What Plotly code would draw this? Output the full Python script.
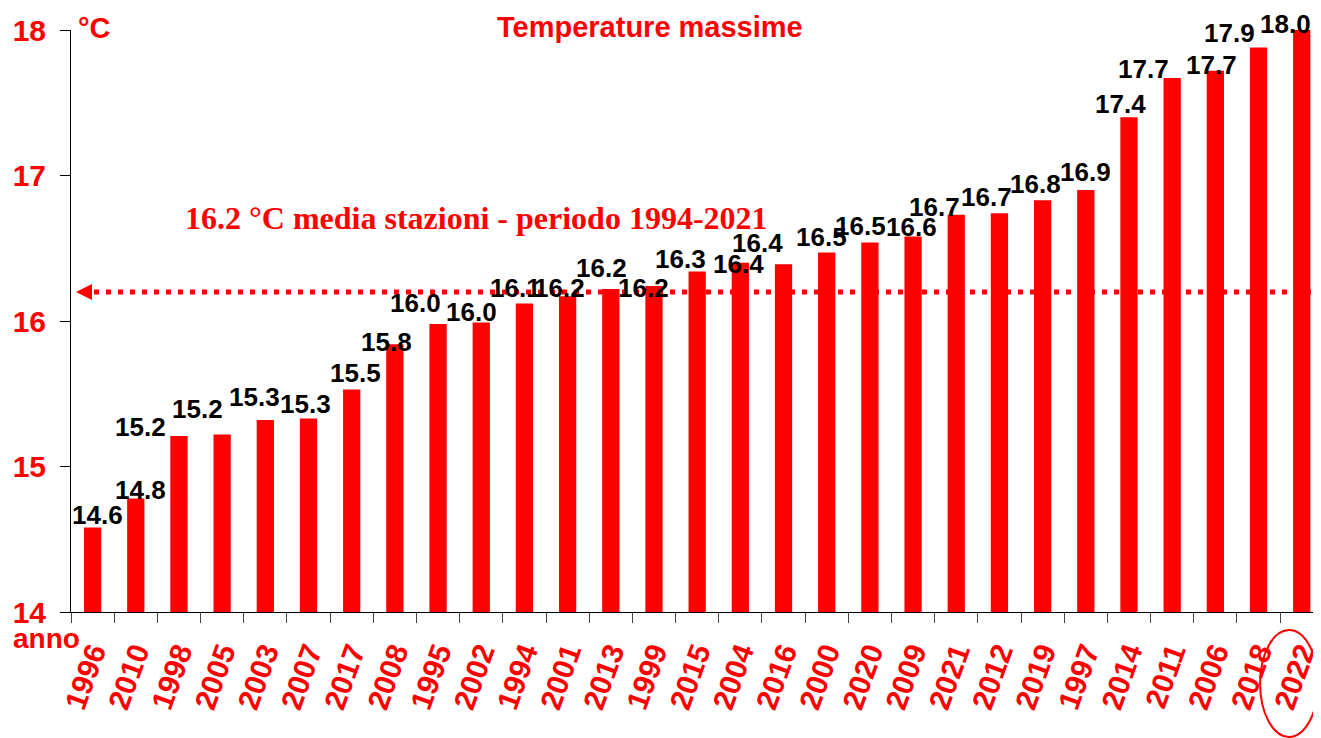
import plotly.graph_objects as go

# ---- data ----
years = ["1996", "2010", "1998", "2005", "2003", "2007", "2017", "2008", "1995", "2002",
         "1994", "2001", "2013", "1999", "2015", "2004", "2016", "2000", "2020", "2009",
         "2021", "2012", "2019", "1997", "2014", "2011", "2006", "2018", "2022"]
tmax = [14.58, 14.78, 15.21, 15.22, 15.32, 15.33, 15.53, 15.84, 15.98, 15.99,
        16.12, 16.17, 16.22, 16.24, 16.34, 16.40, 16.39, 16.47, 16.54, 16.58,
        16.73, 16.74, 16.83, 16.90, 17.40, 17.67, 17.72, 17.88, 18.01]
mean_ref = 16.2
y_ticks = [14, 15, 16, 17, 18]

# label placement tweaks (pixels), mimicking the hand-placed labels of the original
label_dx = [5, 5, -38, -25, -11, -3, 4, -8, -23, -10, -9, -8, -9, -10, -17, -2, -26, -5,
            -9, -2, -22, -13, -7, 0, -8, -29, -4, -29, -16]
label_dy = [-13, -9, -9, -25, -23, -14, -16, -2, -21, -10, -16, -8, -21, 2, -13, 1, -21,
            -16, -16, -10, -8, -16, -16, -18, -13, -9, -6, -14, -6]

RED = "#FF0000"
SANS = "Liberation Sans, Arial, sans-serif"
SERIF = "Liberation Serif, Times New Roman, serif"
Y_RANGE = [y_ticks[0], y_ticks[-1]]

# the page adds an 8px body margin; the figure is sized so the plot area lands
# at x 71..1321, y 30..612 of the window
fig = go.Figure()
fig.add_trace(go.Bar(x=years, y=tmax, width=0.4, marker=dict(color=RED, line=dict(width=0)),
                     hoverinfo="x+y"))

annotations = []
for i, (v, dx, dy) in enumerate(zip(tmax, label_dx, label_dy)):
    annotations.append(dict(x=i, y=min(v, Y_RANGE[1]), xref="x", yref="y", text=f"{v:.1f}",
                            showarrow=False, xshift=dx, yshift=-dy,
                            yanchor="middle", xanchor="center",
                            font=dict(family=SANS, size=26, color="black", weight="bold")))

annotations += [
    dict(x=0.464, y=1.005, xref="paper", yref="paper", text="Temperature massime",
         showarrow=False, xanchor="center", yanchor="middle",
         font=dict(family=SANS, size=29, color=RED, weight="bold")),
    dict(x=0.0185, y=1.003, xref="paper", yref="paper", text="°C", showarrow=False,
         xanchor="center", yanchor="middle",
         font=dict(family=SANS, size=29, color=RED, weight="bold")),
    dict(x=-0.0193, y=-0.046, xref="paper", yref="paper", text="anno", showarrow=False,
         xanchor="center", yanchor="middle",
         font=dict(family=SANS, size=28, color=RED, weight="bold")),
    dict(x=0.3252, y=0.677, xref="paper", yref="paper",
         text=f"{mean_ref:.1f} °C media stazioni - periodo 1994-2021", showarrow=False,
         xanchor="center", yanchor="middle",
         font=dict(family=SERIF, size=32, color=RED, weight="bold")),
]

shapes = [
    dict(type="line", xref="paper", yref="y", x0=0.0088, x1=0.996, y0=mean_ref, y1=mean_ref,
         line=dict(color=RED, width=5, dash="5px,7px"), layer="above"),
    dict(type="path", xref="x", yref="y", xsizemode="pixel", ysizemode="pixel",
         xanchor=-0.5, yanchor=mean_ref, path="M 5,0 L 21,8 L 21,-8 Z",
         fillcolor=RED, line=dict(color=RED, width=0)),
    dict(type="circle", xref="paper", yref="paper",
         x0=(1262 - 71) / 1250, x1=(1320 - 71) / 1250,
         y0=(612 - 737) / 582, y1=(612 - 630) / 582,
         line=dict(color=RED, width=2)),
]

fig.update_layout(
    width=1313, height=730,
    margin=dict(l=63, r=0, t=22, b=126),
    paper_bgcolor="white", plot_bgcolor="white",
    showlegend=False,
    annotations=annotations,
    shapes=shapes,
    xaxis=dict(type="category", range=[-0.5, 28.4], showgrid=False, showline=True,
               linecolor="black", linewidth=1, ticks="outside", tickson="boundaries",
               ticklen=10, tickcolor="#444", tickangle=-70, ticklabelstandoff=10,
               tickfont=dict(family=SANS, size=30, color=RED, weight="bold")),
    yaxis=dict(range=Y_RANGE, tickvals=y_ticks, showgrid=False, zeroline=False, showline=True,
               linecolor="black", linewidth=1, ticks="outside", ticklen=10, tickcolor="black",
               ticklabelstandoff=8,
               tickfont=dict(family=SANS, size=30, color=RED, weight="bold")),
)

fig.write_html("out.html")
